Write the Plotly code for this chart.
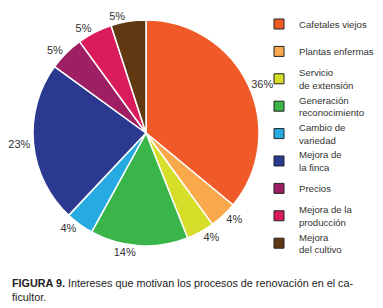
import plotly.graph_objects as go

categories = ["Cafetales viejos", "Plantas enfermas", "Servicio<br>de extensión",
              "Generación<br>reconocimiento", "Cambio de<br>variedad", "Mejora de<br>la finca",
              "Precios", "Mejora de la<br>producción", "Mejora<br>del cultivo"]
values = [36, 4, 4, 14, 4, 23, 5, 5, 5]
colors = ["#F05A28", "#F9A94B", "#D6DE2A", "#39B54A", "#27AAE1", "#2B3990",
          "#9E1F63", "#DA1C5C", "#603913"]

FONT = "Liberation Sans, Arial, sans-serif"
W, H = 383, 308

fig = go.Figure()
fig.add_trace(go.Pie(
    labels=categories, values=values, sort=False, direction="clockwise", rotation=0,
    marker=dict(colors=colors, line=dict(color="white", width=1.5)),
    texttemplate="%{value}%", textposition="outside",
    textfont=dict(family=FONT, size=11, color="#333333"),
    showlegend=False, hoverinfo="label+value",
    domain=dict(x=[25 / W, 251 / W], y=[1 - 238 / H, 1 - 12 / H]),
))

legend_layouts = {}
for i, (cat, col) in enumerate(zip(categories, colors)):
    key = "legend" if i == 0 else f"legend{i + 1}"
    fig.add_trace(go.Scatter(
        x=[None], y=[None], mode="markers", name=cat, legend=key,
        marker=dict(symbol="square", size=10, color=col, line=dict(color="#222222", width=1)),
    ))
    yc = 16 + 27.4 * i
    legend_layouts[key] = dict(
        x=251 / W, y=1 - yc / H, xanchor="left", yanchor="middle",
        font=dict(family=FONT, size=9.6, color="#333333"),
        itemwidth=30, bgcolor="rgba(0,0,0,0)",
    )

fig.update_layout(
    width=W, height=H, margin=dict(l=0, r=0, t=0, b=0, autoexpand=False),
    paper_bgcolor="white", plot_bgcolor="white",
    xaxis=dict(visible=False), yaxis=dict(visible=False),
    annotations=[dict(
        text="<b>FIGURA 9.</b> Intereses que motivan los procesos de renovación en el ca-<br>ficultor.",
        xref="paper", yref="paper", x=2 / W, y=1 - 267 / H, xanchor="left", yanchor="top",
        align="left", showarrow=False,
        font=dict(family=FONT, size=10.8, color="#222222"),
    )],
    **legend_layouts,
)
fig.write_html("out.html")
